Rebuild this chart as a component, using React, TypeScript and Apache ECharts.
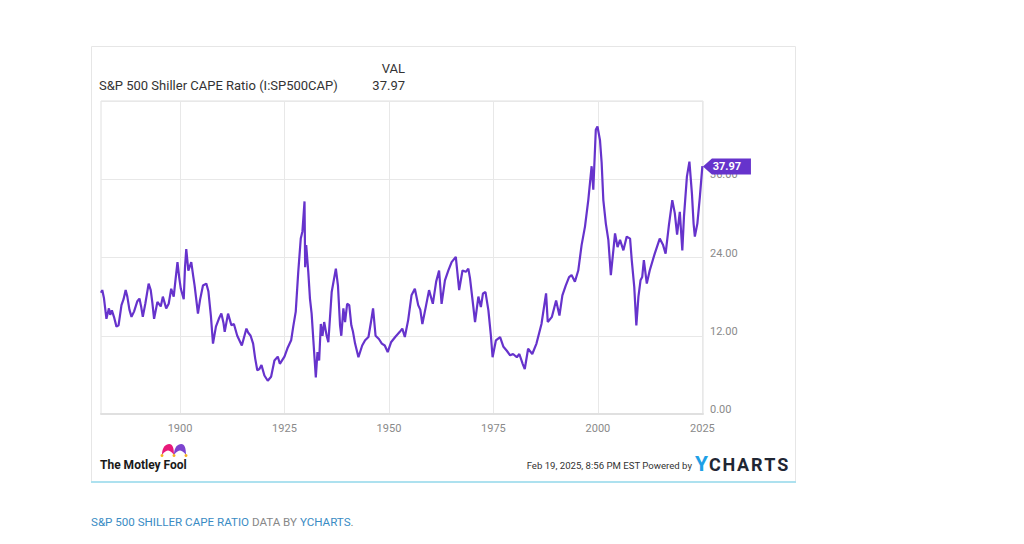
import React, { useEffect, useRef } from "react";
import * as echarts from "echarts";

const years = [
  1881.1, 1881.4, 1881.8, 1882.4, 1883.0, 1883.3, 1883.7, 1884.2, 1884.8, 1885.3,
  1886.0, 1886.5, 1887.0, 1887.4, 1887.9, 1888.4, 1889.0, 1889.8, 1890.3, 1890.7,
  1891.1, 1891.7, 1892.5, 1893.0, 1893.4, 1893.8, 1894.6, 1895.4, 1895.9, 1896.7,
  1897.3, 1897.9, 1898.5, 1899.0, 1899.4, 1899.8, 1900.2, 1900.9, 1901.2, 1901.5,
  1902.0, 1902.7, 1903.2, 1903.5, 1904.3, 1904.8, 1905.5, 1906.3, 1906.8, 1907.4,
  1907.9, 1908.6, 1909.3, 1909.9, 1910.4, 1910.7, 1911.5, 1912.3, 1912.9, 1913.7,
  1914.8, 1915.9, 1916.3, 1916.9, 1917.5, 1918.0, 1918.5, 1919.0, 1919.5, 1920.2,
  1921.0, 1921.8, 1922.6, 1923.4, 1923.9, 1925.0, 1925.8, 1926.6, 1927.1, 1927.7,
  1928.3, 1928.9, 1929.3, 1929.8, 1929.95, 1930.2, 1930.7, 1931.1, 1931.5, 1932.1,
  1932.5, 1932.9, 1933.3, 1933.7, 1934.1, 1934.5, 1935.1, 1935.5, 1936.3, 1937.3,
  1937.8, 1938.3, 1938.6, 1939.1, 1939.5, 1940.0, 1940.5, 1941.0, 1941.4, 1941.9,
  1942.7, 1943.6, 1944.3, 1945.1, 1945.7, 1946.2, 1946.8, 1947.6, 1948.3, 1949.0,
  1949.7, 1950.5, 1951.5, 1952.6, 1953.2, 1953.8, 1954.6, 1955.4, 1956.2, 1957.0,
  1957.5, 1958.0, 1958.9, 1959.6, 1960.5, 1961.3, 1962.0, 1962.6, 1963.4, 1964.2,
  1965.0, 1966.0, 1966.8, 1967.6, 1968.4, 1969.0, 1969.4, 1970.2, 1970.6, 1971.4,
  1972.0, 1972.5, 1973.1, 1973.8, 1974.4, 1974.8, 1975.6, 1976.6, 1977.4, 1978.2,
  1979.0, 1979.7, 1980.6, 1981.2, 1982.0, 1982.5, 1983.3, 1984.3, 1985.3, 1986.5,
  1987.6, 1988.0, 1989.0, 1990.0, 1990.8, 1991.5, 1992.3, 1993.1, 1993.7, 1994.5,
  1995.3, 1996.1, 1996.9, 1997.7, 1998.5, 1998.9, 1999.5, 1999.9, 2000.5, 2000.9,
  2001.3, 2001.9, 2002.5, 2003.1, 2003.7, 2004.1, 2004.7, 2005.3, 2006.1, 2006.9,
  2007.7, 2008.1, 2008.7, 2009.2, 2009.7, 2010.2, 2010.6, 2011.0, 2011.7, 2012.4,
  2013.6, 2014.8, 2015.6, 2016.2, 2017.0, 2017.8, 2018.4, 2018.95, 2019.6, 2020.2,
  2020.6, 2021.3, 2021.9, 2022.5, 2022.9, 2023.2, 2023.8, 2024.4, 2025.0, 2025.13,
];

const cape = [
  18.6, 19.0, 17.8, 14.6, 16.2, 15.2, 15.9, 14.9, 13.4, 13.6,
  16.7, 17.6, 19.0, 18.0, 16.0, 14.9, 15.7, 17.3, 17.7, 16.5,
  14.9, 16.9, 20.0, 19.0, 17.0, 14.6, 17.2, 16.5, 18.0, 16.2,
  16.9, 19.2, 18.0, 21.0, 23.3, 21.0, 19.2, 17.6, 22.5, 25.3,
  22.0, 23.3, 21.0, 19.7, 15.4, 17.5, 19.7, 20.0, 18.8, 15.0,
  10.8, 13.4, 14.6, 15.4, 14.0, 12.6, 15.4, 13.6, 13.8, 12.0,
  10.5, 13.1, 12.5, 12.0, 10.8, 8.5, 6.7, 6.9, 7.5, 5.9,
  5.1, 5.7, 8.2, 8.8, 7.7, 8.8, 10.2, 11.3, 13.4, 15.7,
  21.8, 26.9, 28.0, 32.6, 22.5, 25.9, 21.8, 17.7, 15.4, 9.5,
  5.6, 9.5, 8.2, 13.8, 12.0, 14.1, 12.0, 11.0, 18.7, 22.3,
  19.7, 13.6, 12.0, 16.2, 14.1, 16.9, 16.7, 13.6, 12.6, 10.8,
  8.7, 10.5, 11.3, 11.8, 14.1, 16.2, 12.0, 11.5, 10.8, 10.5,
  9.5, 11.0, 11.8, 12.6, 13.1, 11.8, 14.4, 18.2, 19.2, 16.7,
  16.0, 13.8, 16.7, 19.0, 16.9, 20.3, 22.0, 16.9, 20.5, 22.0,
  23.3, 24.1, 19.0, 22.0, 21.8, 22.3, 20.8, 16.4, 14.1, 18.0,
  16.4, 18.5, 18.7, 15.9, 12.0, 8.7, 11.3, 11.8, 10.3, 9.7,
  9.0, 9.2, 8.7, 9.2, 7.7, 6.9, 10.0, 9.2, 10.8, 13.8,
  18.5, 14.1, 14.9, 17.4, 15.1, 18.2, 19.7, 21.0, 21.3, 20.3,
  22.0, 25.9, 28.7, 32.8, 38.0, 34.4, 43.6, 44.1, 42.0, 38.5,
  32.8, 29.2, 26.7, 21.3, 25.1, 27.7, 25.6, 26.7, 25.1, 27.2,
  26.9, 23.6, 19.5, 13.6, 18.0, 20.5, 21.0, 23.6, 20.0, 22.0,
  24.6, 26.9, 25.9, 24.6, 29.0, 32.8, 30.8, 27.5, 31.0, 25.1,
  30.3, 36.4, 38.7, 33.8, 29.2, 27.2, 29.2, 33.3, 38.0, 37.97,
];

const xTicks = [1900, 1925, 1950, 1975, 2000, 2025];
const yTicks = [0, 12, 24, 36, 48];
const seriesTitle = "S&P 500 Shiller CAPE Ratio (I:SP500CAP)";
const valHeader = "VAL";
const lastValueLabel = "37.97";
const stamp = "Feb 19, 2025, 8:56 PM EST Powered by";
const brand = "The Motley Fool";

const PURPLE = "#6633cc";
const FONT = "Roboto, sans-serif";

export default function App() {
  const ref = useRef<HTMLDivElement>(null);

  useEffect(() => {
    if (!ref.current) return;
    echarts.graphic.registerShape(
      "lobe",
      echarts.graphic.extendPath(
        "M0,10 C0,3 3,0 6,0 C9,0 10,4 10,10 C8,7 6,6 5,6 C4,6 2,7 0,10 Z",
        {}
      )
    );
    const chart = echarts.init(ref.current, null, { renderer: "svg" });
    const data = years.map((y, i) => [y, cape[i]]);
    const lastIdx = years.length - 1;

    chart.setOption({
      animation: false,
      backgroundColor: "#ffffff",
      grid: {
        left: 101,
        right: 321,
        top: 101,
        bottom: 130,
        show: true,
        borderColor: "#e0e0e0",
        borderWidth: 1,
      },
      xAxis: {
        type: "value",
        min: 1881.1,
        max: 2025.15,
        axisLine: { show: true, lineStyle: { color: "#e0e0e0", width: 2 } },
        axisTick: { show: false, customValues: xTicks },
        axisLabel: {
          customValues: xTicks,
          formatter: (v: number) => String(Math.round(v)),
          color: "#8a8a8a",
          fontSize: 11,
          fontFamily: FONT,
          margin: 9,
        },
        splitLine: { show: true, lineStyle: { color: "#e8e8e8", width: 1 } },
      },
      yAxis: {
        type: "value",
        position: "right",
        min: yTicks[0],
        max: yTicks[yTicks.length - 1],
        interval: 12,
        axisLine: { show: false },
        axisTick: { show: false },
        axisLabel: {
          formatter: (v: number) => v.toFixed(2),
          color: "#8a8a8a",
          fontSize: 11,
          fontFamily: FONT,
          margin: 7,
          verticalAlign: "bottom",
          lineHeight: 9,
          showMaxLabel: false,
        },
        splitLine: { show: true, lineStyle: { color: "#e8e8e8", width: 1 } },
      },
      series: [
        {
          type: "line",
          name: seriesTitle,
          data,
          showSymbol: false,
          symbol: "none",
          lineStyle: { color: PURPLE, width: 2.2 },
          itemStyle: { color: PURPLE },
          z: 3,
          markPoint: {
            symbol: "path://M0,8 L9,0 L48,0 L48,16 L9,16 Z",
            symbolSize: [48, 16],
            symbolOffset: ["50%", 0],
            itemStyle: { color: PURPLE },
            label: {
              show: true,
              position: "inside",
              formatter: () => lastValueLabel,
              color: "#ffffff",
              fontSize: 11,
              fontWeight: "bold",
              fontFamily: FONT,
              offset: [0, 0],
            },
            data: [{ coord: [years[lastIdx], cape[lastIdx]], value: cape[lastIdx] }],
            z: 10,
          },
        },
      ],
      graphic: [
        {
          type: "rect",
          shape: { x: 91.5, y: 46.5, width: 704, height: 435 },
          style: { fill: "none", stroke: "#e6e6e6", lineWidth: 1 },
          silent: true,
        },
        {
          type: "line",
          shape: { x1: 91, y1: 482, x2: 796, y2: 482 },
          style: { stroke: "#ade1ef", lineWidth: 2 },
          silent: true,
        },
        {
          type: "text",
          x: 405,
          y: 68,
          style: {
            text: valHeader,
            fill: "#333333",
            font: `13px ${FONT}`,
            align: "right",
            verticalAlign: "middle",
          },
        },
        {
          type: "text",
          x: 405,
          y: 85,
          style: {
            text: lastValueLabel,
            fill: "#333333",
            font: `13px ${FONT}`,
            align: "right",
            verticalAlign: "middle",
          },
        },
        {
          type: "text",
          x: 99,
          y: 85,
          style: {
            text: seriesTitle,
            fill: "#333333",
            font: `13px ${FONT}`,
            align: "left",
            verticalAlign: "middle",
          },
        },
        {
          type: "lobe",
          x: 162,
          y: 444,
          scaleX: 1.2,
          scaleY: 1.1,
          style: { fill: "#e8197a" },
        },
        {
          type: "lobe",
          x: 174,
          y: 444,
          scaleX: 1.2,
          scaleY: 1.1,
          style: { fill: "#7d44cf" },
        },
        { type: "circle", shape: { cx: 162, cy: 455.5, r: 1.5 }, style: { fill: "#f5b324" } },
        { type: "circle", shape: { cx: 174, cy: 455.5, r: 1.5 }, style: { fill: "#f5b324" } },
        { type: "circle", shape: { cx: 186, cy: 455.5, r: 1.5 }, style: { fill: "#f5b324" } },
        {
          type: "text",
          x: 100,
          y: 465,
          style: {
            text: brand,
            fill: "#1a1a1a",
            font: `bold 12px ${FONT}`,
            align: "left",
            verticalAlign: "middle",
          },
        },
        {
          type: "text",
          x: 692,
          y: 465,
          style: {
            text: stamp,
            fill: "#333333",
            font: `9.6px ${FONT}`,
            align: "right",
            verticalAlign: "middle",
          },
        },
        {
          type: "text",
          x: 695,
          y: 464,
          style: {
            text: "{y|Y}{c|C}{c|H}{c|A}{c|R}{c|T}{c|S}",
            align: "left",
            verticalAlign: "middle",
            rich: {
              y: { fill: "#1ea0e6", fontSize: 21, fontWeight: "bold", fontFamily: FONT, padding: [0, 1, 0, 0] },
              c: { fill: "#1f2633", fontSize: 18, fontWeight: "bold", fontFamily: FONT, padding: [0, 1.8, 0, 0] },
            },
          },
        },
        {
          type: "text",
          x: 91,
          y: 522,
          style: {
            text: "{a|S&P 500 SHILLER CAPE RATIO}{b| DATA BY }{a|YCHARTS}{b|.}",
            align: "left",
            verticalAlign: "middle",
            rich: {
              a: { fill: "#3a8cc4", fontSize: 11.6, fontFamily: FONT },
              b: { fill: "#888888", fontSize: 11.6, fontFamily: FONT },
            },
          },
        },
      ],
    });

    return () => chart.dispose();
  }, []);

  return (
    <div
      ref={ref}
      style={{ position: "absolute", left: 0, top: 0, width: 1024, height: 544 }}
    />
  );
}
